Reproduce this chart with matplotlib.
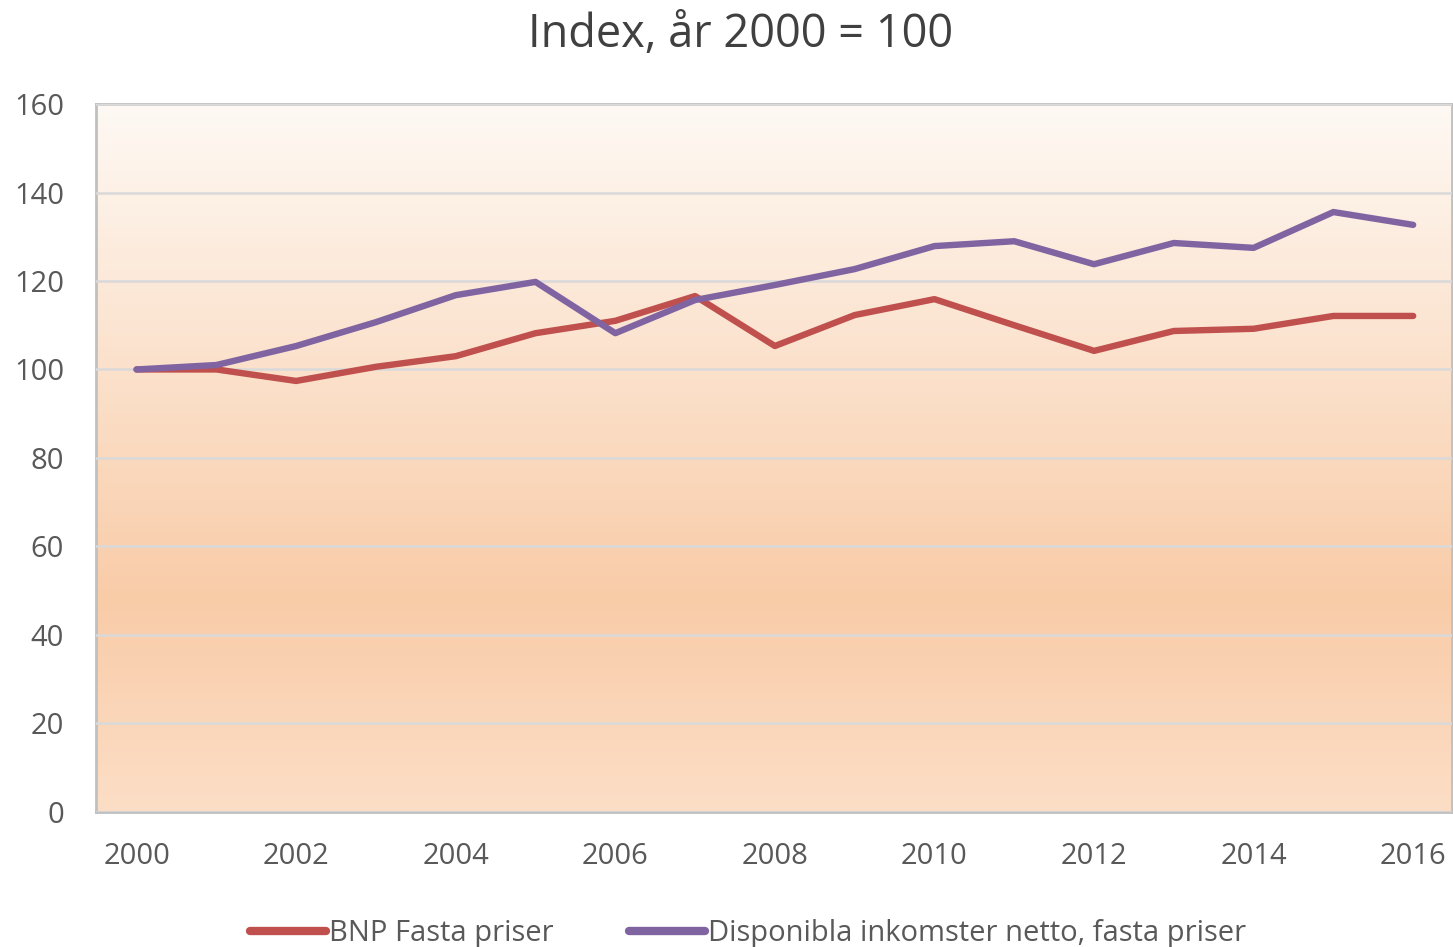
import numpy as np
import matplotlib.pyplot as plt
from matplotlib.colors import LinearSegmentedColormap

years = list(range(2000, 2017))
bnp = [100, 100, 97.4, 100.6, 103, 108.2, 111, 116.6, 105.3, 112.3, 115.9,
       110, 104.2, 108.7, 109.2, 112.1, 112.1]
disp = [100, 101, 105.3, 110.7, 116.8, 119.8, 108.2, 115.7, 119.1, 122.7, 127.9,
        129, 123.8, 128.6, 127.5, 135.6, 132.7]
labels = ['BNP Fasta priser', 'Disponibla inkomster netto, fasta priser']

plt.rcParams['font.family'] = ['Open Sans', 'DejaVu Sans']

fig = plt.figure(figsize=(14.53, 9.47), dpi=100)
ax = fig.add_axes([0.066, 0.143, 0.9335, 0.747])

# background gradient inside the plot area
grad = LinearSegmentedColormap.from_list(
    'bg', [(0.0, '#fcdec6'), (0.3, '#f9cca8'), (1.0, '#fef9f4')])
ax.imshow(np.linspace(0, 1, 256).reshape(-1, 1), cmap=grad, aspect='auto',
          extent=[1999.49, 2016.49, 0, 160], origin='lower', zorder=0)

ax.plot(years, bnp, color='#c0504d', lw=4.6, solid_capstyle='round',
        solid_joinstyle='round', label=labels[0], zorder=3)
ax.plot(years, disp, color='#8064a2', lw=4.6, solid_capstyle='round',
        solid_joinstyle='round', label=labels[1], zorder=3)

ax.set_xlim(1999.49, 2016.49)
ax.set_ylim(0, 160)
ax.set_xticks(range(2000, 2017, 2))
ax.set_yticks(range(0, 161, 20))
ax.yaxis.grid(True, color='#d9d9d9', lw=1.8, zorder=1)
ax.set_axisbelow(False)
for s in ax.spines.values():
    s.set_color('#c0c0c0')
    s.set_linewidth(2)
ax.tick_params(length=0, labelsize=21, colors='#595959')
ax.tick_params(axis='x', pad=22)
ax.tick_params(axis='y', pad=23)

fig.text(0.51, 0.963, 'Index, år 2000 = 100', ha='center', va='center',
         fontsize=32.5, color='#404040')

leg = fig.legend(loc='lower center', bbox_to_anchor=(0.515, -0.029), ncol=2,
                 frameon=False, fontsize=21, handlelength=2.6, handletextpad=0.1,
                 columnspacing=2.6, labelcolor='#595959')
for ln in leg.get_lines():
    ln.set_linewidth(6)

fig.savefig('out.png', dpi=100)
